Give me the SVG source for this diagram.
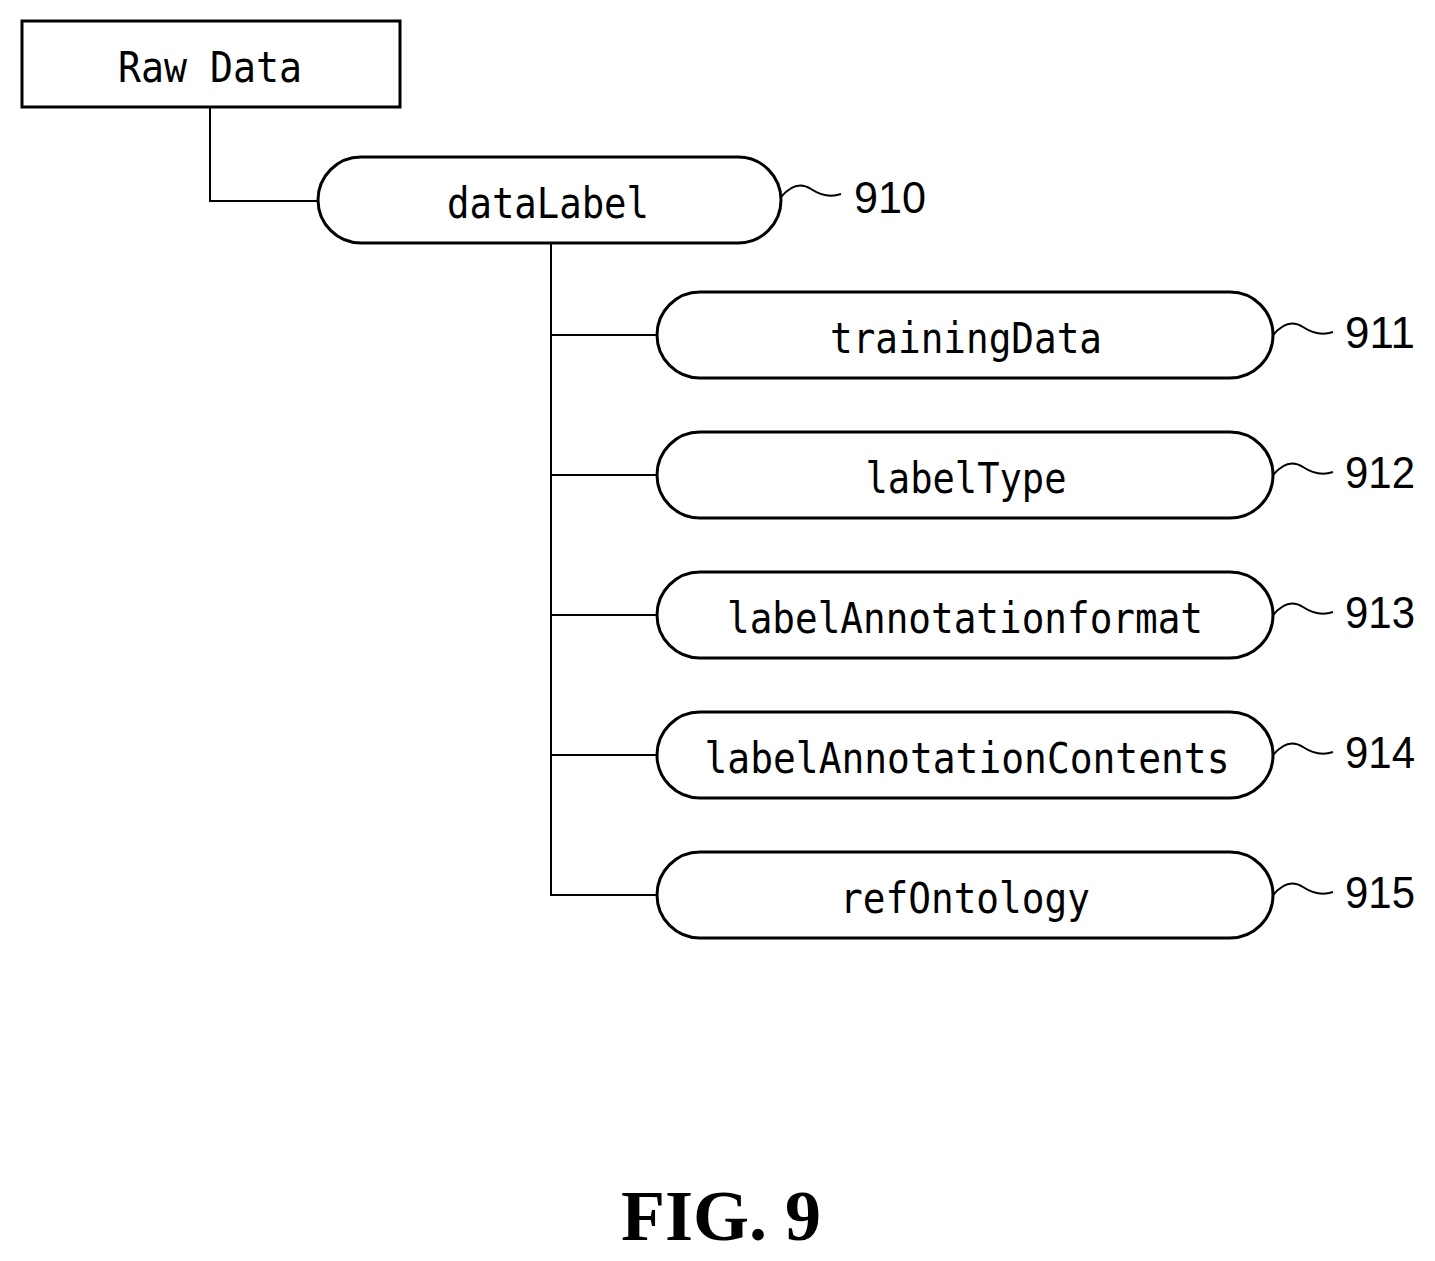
<svg xmlns="http://www.w3.org/2000/svg" width="1435" height="1261" viewBox="0 0 1435 1261">
<style>
.n{fill:#fff;stroke:#000;stroke-width:3}
.t{font-family:"DejaVu Sans Mono","Liberation Mono",monospace;font-size:42px;text-anchor:middle;fill:#000}
.r{font-family:"Liberation Sans Narrow","Liberation Sans",sans-serif;font-size:44px;fill:#000}
.c{fill:none;stroke:#000;stroke-width:2}
</style>
<rect width="1435" height="1261" fill="#fff"/>
<g id="connectors">
<path class="c" d="M210 107V201H318M551 243V895H657M551 335H657M551 475H657M551 615H657M551 755H657"/>
<path class="c" d="M781 197q15-18 30-8t30 5M1273 335q15-18 30-8t30 5M1273 475q15-18 30-8t30 5M1273 615q15-18 30-8t30 5M1273 755q15-18 30-8t30 5M1273 895q15-18 30-8t30 5"/>
</g>
<g id="raw"><rect class="n" x="22" y="21" width="378" height="86"/><text class="t" x="210" y="82" textLength="184" lengthAdjust="spacingAndGlyphs">Raw Data</text></g>
<g id="n910"><rect class="n" x="318" y="157" width="463" height="86" rx="43"/><text class="t" x="548" y="218" textLength="202" lengthAdjust="spacingAndGlyphs">dataLabel</text><text class="r" x="854" y="213" textLength="72" lengthAdjust="spacingAndGlyphs">910</text></g>
<g id="n911"><rect class="n" x="657" y="292" width="616" height="86" rx="43"/><text class="t" x="966" y="353" textLength="272" lengthAdjust="spacingAndGlyphs">trainingData</text><text class="r" x="1345" y="348" textLength="70" lengthAdjust="spacingAndGlyphs">911</text></g>
<g id="n912"><rect class="n" x="657" y="432" width="616" height="86" rx="43"/><text class="t" x="966" y="493" textLength="201" lengthAdjust="spacingAndGlyphs">labelType</text><text class="r" x="1345" y="488" textLength="70" lengthAdjust="spacingAndGlyphs">912</text></g>
<g id="n913"><rect class="n" x="657" y="572" width="616" height="86" rx="43"/><text class="t" x="965" y="633" textLength="476" lengthAdjust="spacingAndGlyphs">labelAnnotationformat</text><text class="r" x="1345" y="628" textLength="70" lengthAdjust="spacingAndGlyphs">913</text></g>
<g id="n914"><rect class="n" x="657" y="712" width="616" height="86" rx="43"/><text class="t" x="967" y="773" textLength="525" lengthAdjust="spacingAndGlyphs">labelAnnotationContents</text><text class="r" x="1345" y="768" textLength="70" lengthAdjust="spacingAndGlyphs">914</text></g>
<g id="n915"><rect class="n" x="657" y="852" width="616" height="86" rx="43"/><text class="t" x="965" y="913" textLength="250" lengthAdjust="spacingAndGlyphs">refOntology</text><text class="r" x="1345" y="908" textLength="70" lengthAdjust="spacingAndGlyphs">915</text></g>
<text x="721" y="1240" font-family="Liberation Serif,serif" font-size="72" font-weight="bold" text-anchor="middle">FIG. 9</text>
</svg>
